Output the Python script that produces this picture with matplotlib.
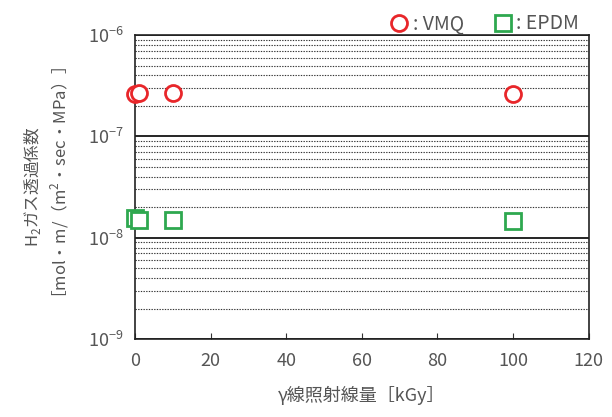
import numpy as np
import matplotlib
matplotlib.use('Agg')
import matplotlib.pyplot as plt
from matplotlib.ticker import LogLocator, NullFormatter

plt.rcParams['font.family'] = ['Noto Sans CJK JP', 'DejaVu Sans']
plt.rcParams['mathtext.fontset'] = 'custom'
plt.rcParams['mathtext.rm'] = 'Noto Sans CJK JP'

# 照射線量 [kGy]
dose = [0, 1, 10, 100]
vmq = [2.6e-7, 2.65e-7, 2.7e-7, 2.6e-7]
epdm = [1.55e-8, 1.48e-8, 1.48e-8, 1.45e-8]
xticks = [0, 20, 40, 60, 80, 100, 120]

gray = '#555555'
fig = plt.figure(figsize=(6.12, 4.17), dpi=100)
ax = fig.add_axes([0.2206, 0.187, 0.7414, 0.729])

ax.set_yscale('log')
ax.set_ylim(1e-9, 1e-6)
ax.set_xlim(0, 120)
ax.set_xticks(xticks)
ax.yaxis.set_major_locator(LogLocator(base=10, numticks=5))
ax.yaxis.set_minor_locator(LogLocator(base=10, subs=np.arange(2, 10), numticks=10))
ax.yaxis.set_minor_formatter(NullFormatter())

ax.grid(True, which='major', axis='y', color='black', linewidth=1.2, linestyle='-')
ax.grid(True, which='minor', axis='y', color='#333333', linewidth=0.8, linestyle=(0, (1.2, 1.2)))

ax.tick_params(axis='x', direction='in', length=4, colors='#333333', labelcolor=gray,
               labelsize=13, pad=9)
ax.tick_params(axis='y', which='both', length=0, labelcolor=gray, labelsize=13, pad=8)
for s in ax.spines.values():
    s.set_color('#222222')
    s.set_linewidth(1.2)

ax.plot(dose, vmq, linestyle='none', marker='o', markersize=11.5, markerfacecolor='white',
        markeredgecolor='#e8262a', markeredgewidth=2, clip_on=False, zorder=5, label=': VMQ')
ax.plot(dose, epdm, linestyle='none', marker='s', markersize=11, markerfacecolor='white',
        markeredgecolor='#2ea84f', markeredgewidth=2, clip_on=False, zorder=5, label=': EPDM')

ax.set_xlabel('γ線照射線量［kGy］', color=gray, fontsize=13, labelpad=12)
ax.set_ylabel('H$_2$ガス透過係数\n［mol・m/（m$^2$・sec・MPa）］', color=gray, fontsize=12,
              labelpad=12, linespacing=1.35)

fig.legend(loc='upper right', bbox_to_anchor=(0.975, 1.01), ncol=2, frameon=False,
           handletextpad=0.1, columnspacing=1.4, fontsize=14, labelcolor=gray,
           handlelength=1.2)

fig.savefig('out.png', dpi=100)
